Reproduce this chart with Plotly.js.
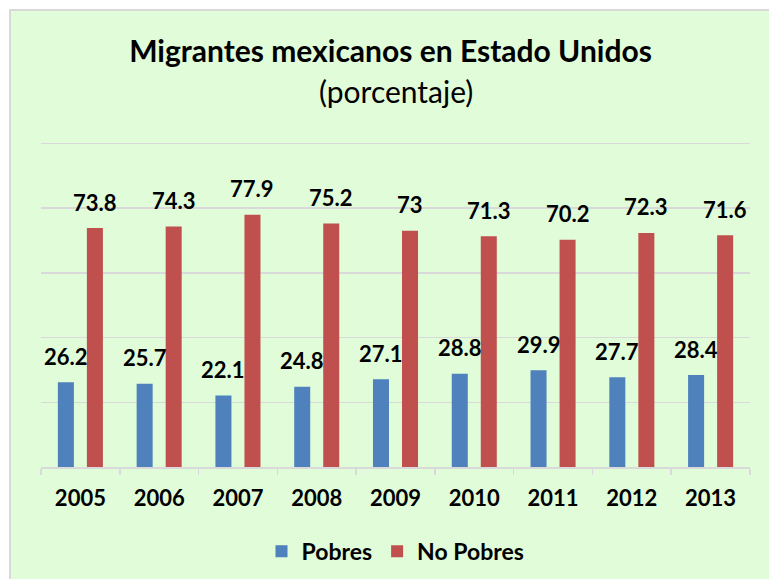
<!DOCTYPE html>
<html>
<head>
<meta charset="utf-8">
<script src="https://cdn.plot.ly/plotly-3.0.1.min.js"></script>
<style>
  html, body { margin: 0; padding: 0; background: #ffffff; width: 769px; height: 579px; overflow: hidden; }
  #chart { position: absolute; left: 9px; top: 9px; width: 760px; height: 570px; border-left: 2px solid #d9d9d9; border-top: 2px solid #d9d9d9; }
</style>
</head>
<body>
<div id="chart"></div>
<script>
const years = ["2005", "2006", "2007", "2008", "2009", "2010", "2011", "2012", "2013"];
const pobres = [26.2, 25.7, 22.1, 24.8, 27.1, 28.8, 29.9, 27.7, 28.4];
const noPobres = [73.8, 74.3, 77.9, 75.2, 73, 71.3, 70.2, 72.3, 71.6];
const seriesNames = ["Pobres", "No Pobres"];
const titleText = "Migrantes mexicanos en Estado Unidos";
const subtitleText = "(porcentaje)";

const FONT = "Lato, 'Open Sans', sans-serif";
const blue = "#4f81bd";
const red = "#c0504d";

const traces = [
  { type: "bar", name: seriesNames[0], x: years, y: pobres, marker: { color: blue }, hoverinfo: "none" },
  { type: "bar", name: seriesNames[1], x: years, y: noPobres, marker: { color: red }, hoverinfo: "none" }
];

const annotations = [];
function addLabels(vals, shift) {
  vals.forEach((v, i) => {
    annotations.push({
      x: i, y: v, xref: "x", yref: "y",
      text: "<b>" + String(v) + "</b>", showarrow: false,
      xshift: shift, yshift: 26, yanchor: "middle", xanchor: "center",
      font: { family: FONT, size: 22, color: "#000000" }
    });
  });
}
addLabels(pobres, -14.5);
addLabels(noPobres, 14.5);
annotations.push({
  xref: "paper", yref: "paper", x: 0.5, y: 1.157, xanchor: "center", yanchor: "middle",
  text: subtitleText, showarrow: false, font: { family: FONT, size: 30, color: "#000000" }
});

const layout = {
  width: 759, height: 569,
  margin: { l: 30, r: 20, t: 131, b: 113, autoexpand: false },
  paper_bgcolor: "#e0fcd8",
  plot_bgcolor: "#e0fcd8",
  title: {
    text: "<b>" + titleText + "</b>",
    x: 0.5, xref: "container", xanchor: "center",
    y: 0.928, yref: "container", yanchor: "middle",
    font: { family: FONT, size: 30, color: "#000000" }
  },
  barmode: "group",
  bargap: 0.263,
  bargroupgap: 0.448,
  xaxis: {
    type: "category",
    range: [-0.5, years.length - 0.5],
    showline: true, linecolor: "#d9d9d9", linewidth: 2,
    ticks: "outside", tickson: "boundaries", ticklen: 6, tickcolor: "#d9d9d9", tickwidth: 1.5,
    tickfont: { family: FONT, size: 22, color: "#000000", weight: "bold" },
    ticklabelstandoff: 11,
    showgrid: false
  },
  yaxis: {
    range: [0, 100.4], dtick: 20,
    showgrid: true, gridcolor: "#d9d9d9", gridwidth: 1.5,
    showticklabels: false, zeroline: false, showline: false, ticks: ""
  },
  showlegend: true,
  legend: {
    orientation: "h", x: 0.5, xanchor: "center", y: -0.259, yanchor: "middle",
    font: { family: FONT, size: 23, color: "#000000", weight: "bold" },
    bgcolor: "rgba(0,0,0,0)", itemclick: false
  },
  annotations: annotations
};

Plotly.newPlot("chart", traces, layout, { displayModeBar: false, staticPlot: true });
</script>
</body>
</html>
